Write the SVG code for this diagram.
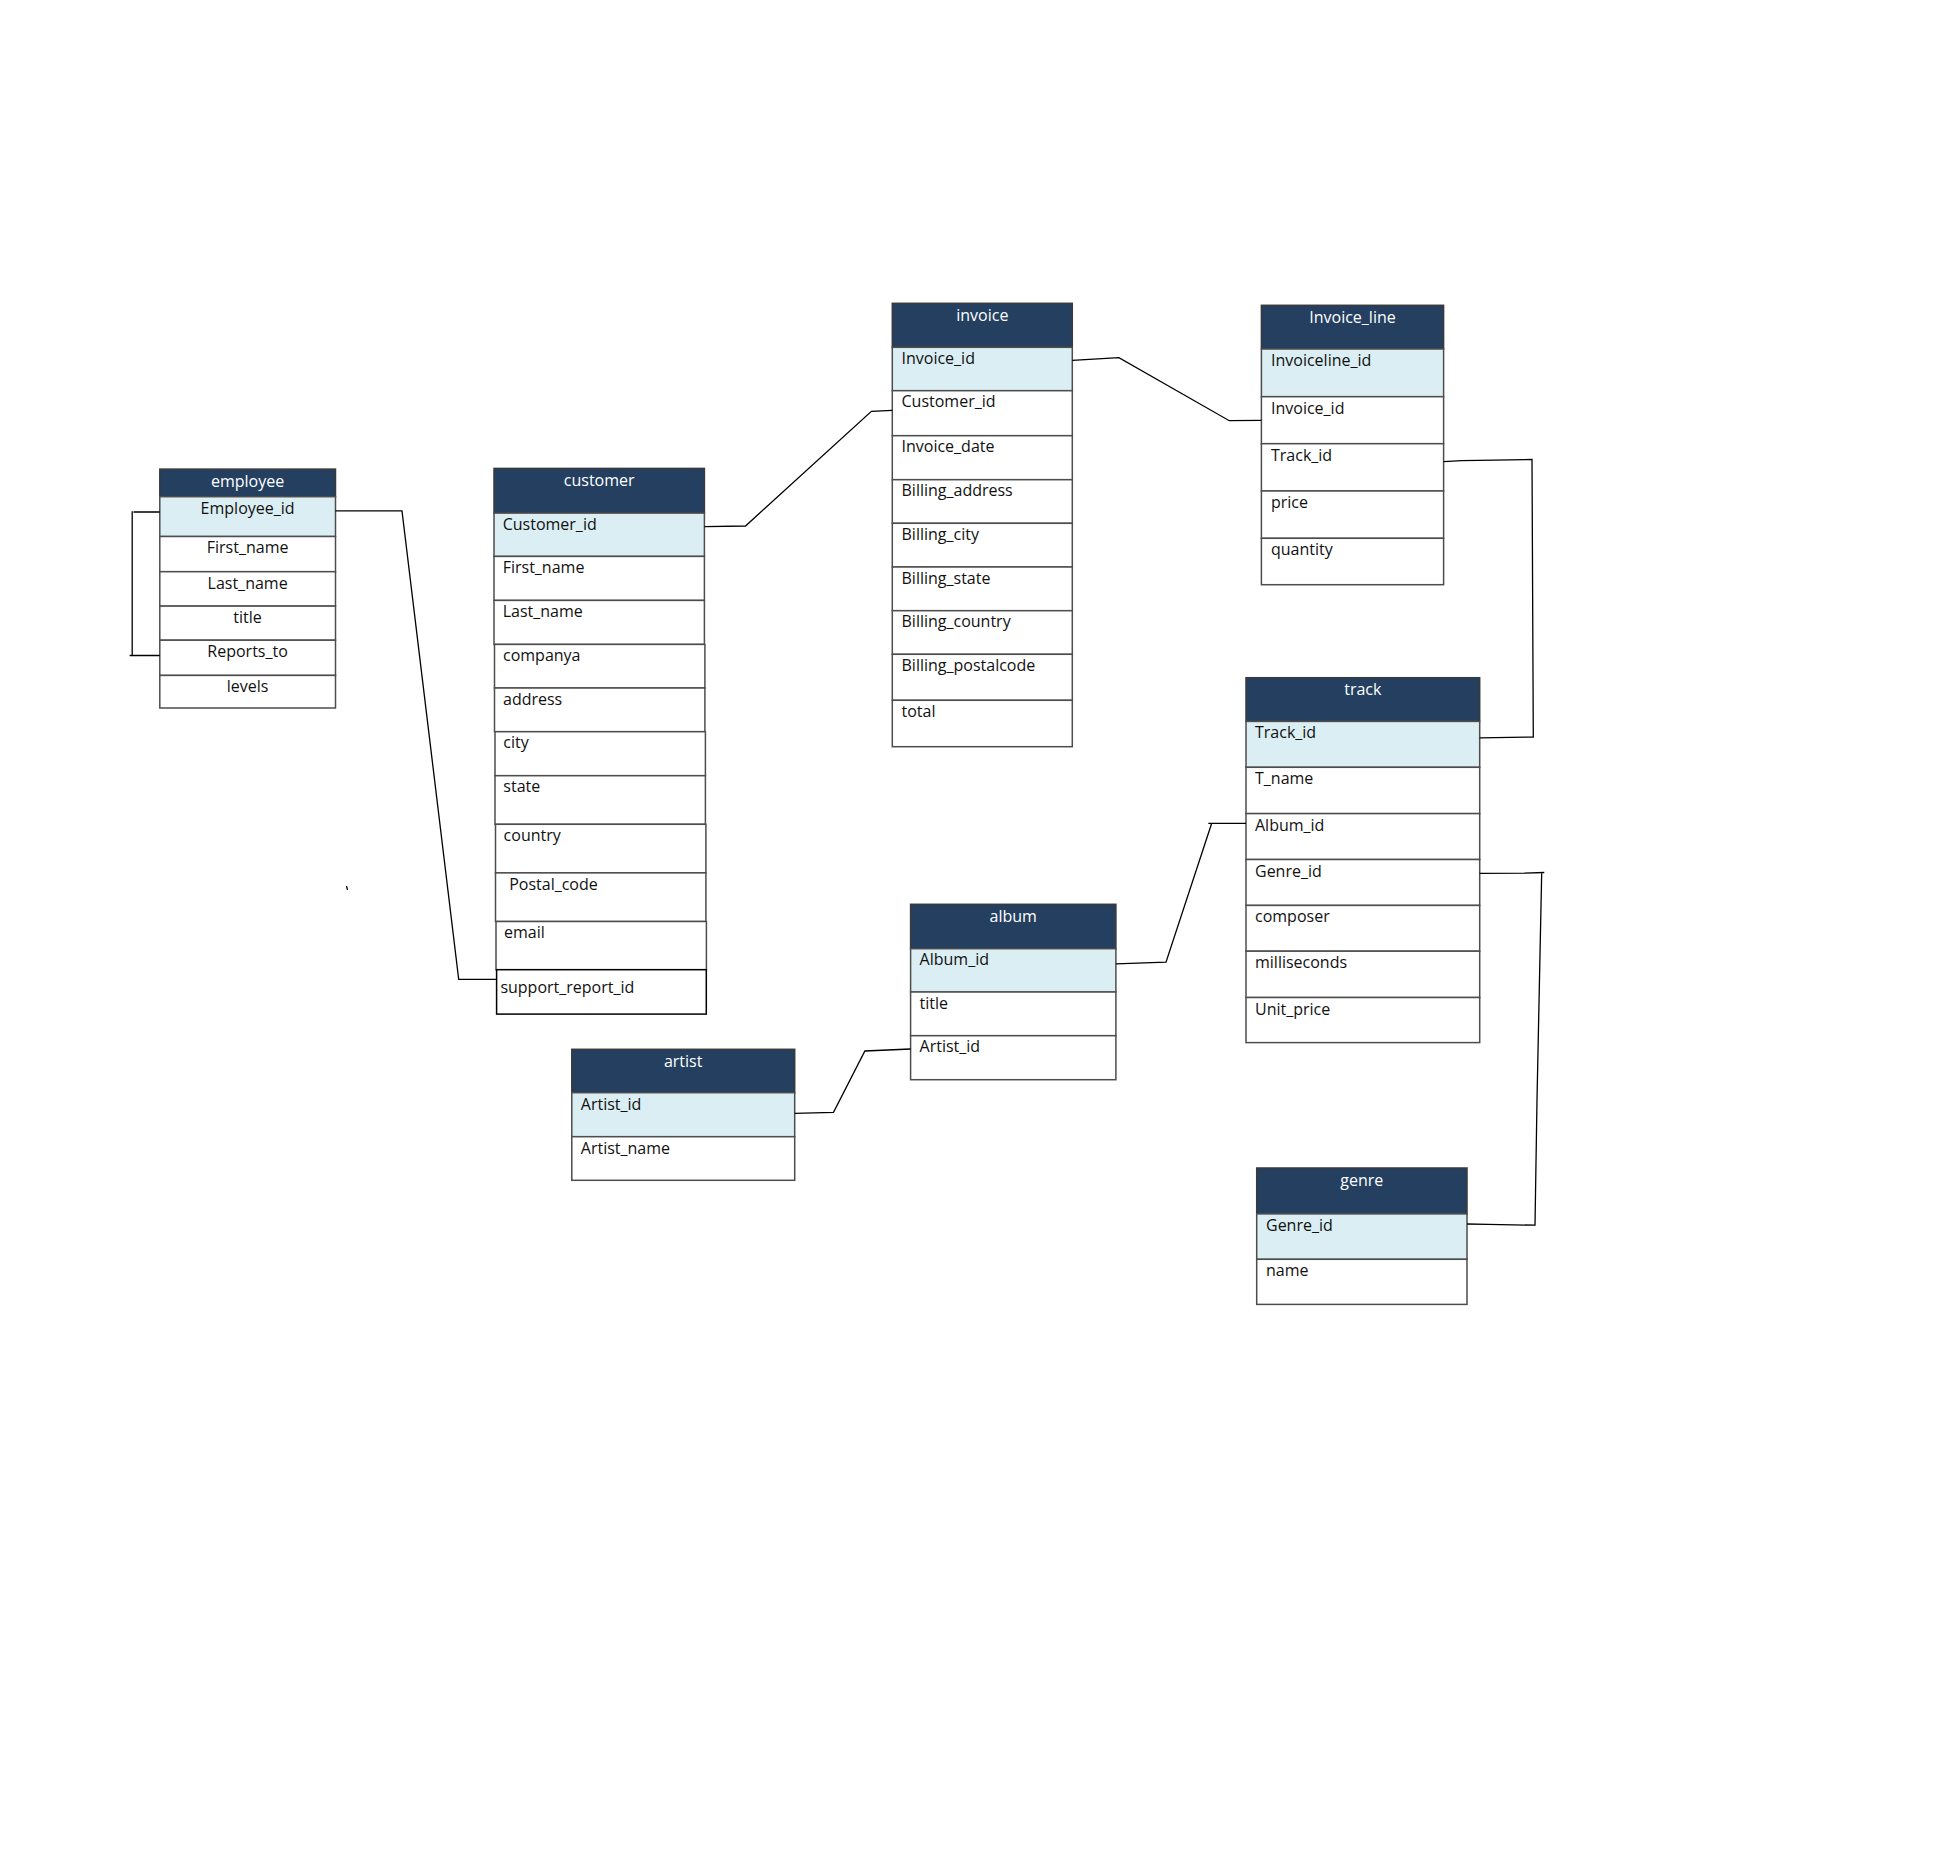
<svg xmlns="http://www.w3.org/2000/svg" width="1942" height="1853" viewBox="0 0 1942 1853">
<style>
  .hdr { fill: #243F60; stroke: #3a3a3a; stroke-width: 1.5; }
  .pk { fill: #DAEEF3; stroke: #4d4d4d; stroke-width: 1.5; }
  .row { fill: #ffffff; stroke: #4d4d4d; stroke-width: 1.5; }
  .rowb { fill: #ffffff; stroke: #000000; stroke-width: 1.5; }
  text { font-family: "Open Sans", "DejaVu Sans", sans-serif; font-size: 16px; fill: #111111; }
  .ht { fill: #ffffff; text-anchor: middle; }
  .c { text-anchor: middle; }
  .conn { fill: none; stroke: #000000; stroke-width: 1.3; }
</style>
<rect width="1942" height="1853" fill="#ffffff"/>

<g id="employee">
  <rect class="hdr" x="159.8" y="469.1" width="175.7" height="27.6"/>
  <rect class="pk" x="159.8" y="496.7" width="175.7" height="39.8"/>
  <rect class="row" x="159.8" y="536.5" width="175.7" height="35.2"/>
  <rect class="row" x="159.8" y="571.7" width="175.7" height="34.4"/>
  <rect class="row" x="159.8" y="606.1" width="175.7" height="34.1"/>
  <rect class="row" x="159.8" y="640.2" width="175.7" height="35.2"/>
  <rect class="row" x="159.8" y="675.4" width="175.7" height="32.6"/>
  <text class="ht" x="247.6" y="486.6">employee</text>
  <text class="c" x="247.6" y="514">Employee_id</text>
  <text class="c" x="247.6" y="553.3">First_name</text>
  <text class="c" x="247.6" y="588.5">Last_name</text>
  <text class="c" x="247.6" y="622.9">title</text>
  <text class="c" x="247.6" y="657">Reports_to</text>
  <text class="c" x="247.6" y="692.2">levels</text>
</g>

<g id="customer">
  <rect class="hdr" x="494" y="468.4" width="210.4" height="44.7"/>
  <rect class="pk" x="494" y="513.1" width="210.4" height="43.3"/>
  <rect class="row" x="494" y="556.4" width="210.4" height="44"/>
  <rect class="row" x="494" y="600.4" width="210.4" height="44"/>
  <rect class="row" x="494.5" y="644.4" width="210.4" height="43.6"/>
  <rect class="row" x="494.5" y="688" width="210.4" height="43.7"/>
  <rect class="row" x="495" y="731.7" width="210.4" height="44"/>
  <rect class="row" x="495" y="775.7" width="210.4" height="48.6"/>
  <rect class="row" x="495.5" y="824.3" width="210.4" height="48.6"/>
  <rect class="row" x="495.5" y="872.9" width="210.4" height="48.6"/>
  <rect class="row" x="496" y="921.5" width="210.4" height="48.2"/>
  <rect class="rowb" x="496.6" y="969.7" width="209.7" height="44.4"/>
  <text class="ht" x="599.2" y="486.3">customer</text>
  <text x="502.7" y="529.6">Customer_id</text>
  <text x="502.7" y="573.2">First_name</text>
  <text x="502.7" y="617.2">Last_name</text>
  <text x="503" y="661">companya</text>
  <text x="503" y="704.6">address</text>
  <text x="503.3" y="748.3">city</text>
  <text x="503.3" y="792.3">state</text>
  <text x="503.6" y="841">country</text>
  <text x="509.2" y="889.6">Postal_code</text>
  <text x="504" y="938.2">email</text>
  <text x="500.4" y="992.6">support_report_id</text>
</g>

<g id="invoice">
  <rect class="hdr" x="892.3" y="303.3" width="180" height="44"/>
  <rect class="pk" x="892.3" y="347.3" width="180" height="43.4"/>
  <rect class="row" x="892.3" y="390.7" width="180" height="45"/>
  <rect class="row" x="892.3" y="435.7" width="180" height="44"/>
  <rect class="row" x="892.3" y="479.7" width="180" height="43.6"/>
  <rect class="row" x="892.3" y="523.3" width="180" height="43.7"/>
  <rect class="row" x="892.3" y="567" width="180" height="43.7"/>
  <rect class="row" x="892.3" y="610.7" width="180" height="43.6"/>
  <rect class="row" x="892.3" y="654.3" width="180" height="46"/>
  <rect class="row" x="892.3" y="700.3" width="180" height="46.4"/>
  <text class="ht" x="982.3" y="320.8">invoice</text>
  <text x="901.5" y="364">Invoice_id</text>
  <text x="901.5" y="407.4">Customer_id</text>
  <text x="901.5" y="452.4">Invoice_date</text>
  <text x="901.5" y="496.4">Billing_address</text>
  <text x="901.5" y="540">Billing_city</text>
  <text x="901.5" y="583.7">Billing_state</text>
  <text x="901.5" y="627.4">Billing_country</text>
  <text x="901.5" y="671">Billing_postalcode</text>
  <text x="901.5" y="717">total</text>
</g>

<g id="invoice_line">
  <rect class="hdr" x="1261.4" y="305.3" width="182.2" height="43.7"/>
  <rect class="pk" x="1261.4" y="349" width="182.2" height="47.7"/>
  <rect class="row" x="1261.4" y="396.7" width="182.2" height="47"/>
  <rect class="row" x="1261.4" y="443.7" width="182.2" height="47.3"/>
  <rect class="row" x="1261.4" y="491" width="182.2" height="47.3"/>
  <rect class="row" x="1261.4" y="538.3" width="182.2" height="46.4"/>
  <text class="ht" x="1352.5" y="322.8">Invoice_line</text>
  <text x="1271" y="366">Invoiceline_id</text>
  <text x="1271" y="413.7">Invoice_id</text>
  <text x="1271" y="460.7">Track_id</text>
  <text x="1271" y="508">price</text>
  <text x="1271" y="555.3">quantity</text>
</g>

<g id="track">
  <rect class="hdr" x="1246" y="677.7" width="233.7" height="43.7"/>
  <rect class="pk" x="1246" y="721.4" width="233.7" height="45.9"/>
  <rect class="row" x="1246" y="767.3" width="233.7" height="46.3"/>
  <rect class="row" x="1246" y="813.6" width="233.7" height="45.9"/>
  <rect class="row" x="1246" y="859.5" width="233.7" height="45.9"/>
  <rect class="row" x="1246" y="905.4" width="233.7" height="45.8"/>
  <rect class="row" x="1246" y="951.2" width="233.7" height="46.3"/>
  <rect class="row" x="1246" y="997.5" width="233.7" height="45.1"/>
  <text class="ht" x="1362.8" y="695.3">track</text>
  <text x="1255" y="738.4">Track_id</text>
  <text x="1255" y="784.3">T_name</text>
  <text x="1255" y="830.6">Album_id</text>
  <text x="1255" y="876.5">Genre_id</text>
  <text x="1255" y="922.4">composer</text>
  <text x="1255" y="968.2">milliseconds</text>
  <text x="1255" y="1014.5">Unit_price</text>
</g>

<g id="genre">
  <rect class="hdr" x="1256.7" y="1168" width="210.3" height="45.9"/>
  <rect class="pk" x="1256.7" y="1213.9" width="210.3" height="45.4"/>
  <rect class="row" x="1256.7" y="1259.3" width="210.3" height="45.1"/>
  <text class="ht" x="1361.8" y="1185.5">genre</text>
  <text x="1266" y="1230.9">Genre_id</text>
  <text x="1266" y="1276.3">name</text>
</g>

<g id="album">
  <rect class="hdr" x="910.6" y="904.3" width="205.3" height="44.4"/>
  <rect class="pk" x="910.6" y="948.7" width="205.3" height="43.3"/>
  <rect class="row" x="910.6" y="992" width="205.3" height="43.7"/>
  <rect class="row" x="910.6" y="1035.7" width="205.3" height="44"/>
  <text class="ht" x="1013.2" y="921.8">album</text>
  <text x="919.6" y="965.3">Album_id</text>
  <text x="919.6" y="1008.6">title</text>
  <text x="919.6" y="1052.3">Artist_id</text>
</g>

<g id="artist">
  <rect class="hdr" x="571.8" y="1049.3" width="222.9" height="43.4"/>
  <rect class="pk" x="571.8" y="1092.7" width="222.9" height="44"/>
  <rect class="row" x="571.8" y="1136.7" width="222.9" height="43.6"/>
  <text class="ht" x="683.2" y="1066.8">artist</text>
  <text x="580.8" y="1109.5">Artist_id</text>
  <text x="580.8" y="1153.5">Artist_name</text>
</g>

<g id="connectors">
  <path class="conn" d="M159.8,512 H133.5 M132.2,511.2 V655.5 M129.6,655.5 H159.8"/>
  <path class="conn" d="M335.5,510.8 H402 L458.7,979.3 H496.6"/>
  <path class="conn" d="M704.4,526.7 L745.5,526 L871.4,411.3 L892.3,410.3"/>
  <path class="conn" d="M1072.3,360.3 L1118.9,357.7 L1229.3,420.7 L1261.4,420.3"/>
  <path class="conn" d="M1443.6,461.7 L1461.8,460.7 L1532,459.5 L1533.3,737 L1479.7,737.9"/>
  <path class="conn" d="M1479.7,873.4 L1524.3,873.2 L1544.3,872.5 M1541.7,872.5 L1537,1100 L1535,1225.2 L1488,1224.3 L1467,1224"/>
  <path class="conn" d="M1246,823.3 L1208.3,823.3 M1211.7,823.3 L1166,962.2 L1115.9,963.9"/>
  <path class="conn" d="M794.7,1113.3 L833.5,1112.3 L864.9,1051 L910.6,1049"/>
  <path class="conn" d="M346.5,886 L347.5,890"/>
</g>
</svg>
